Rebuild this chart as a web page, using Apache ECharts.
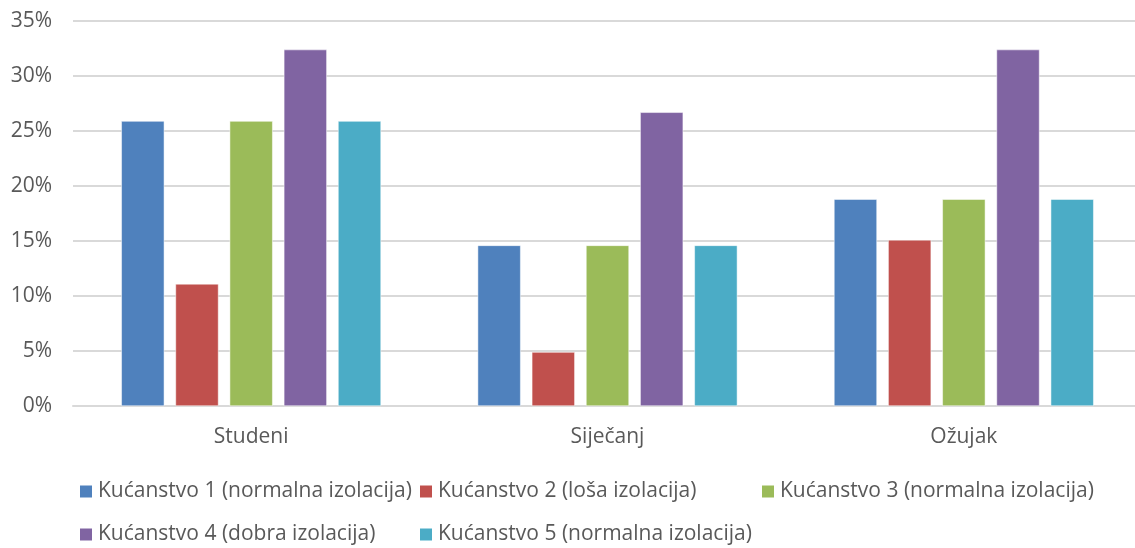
<!DOCTYPE html>
<html>
<head>
<meta charset="utf-8">
<script src="https://cdn.jsdelivr.net/npm/echarts@6/dist/echarts.min.js"></script>
<style>
  html, body { margin: 0; padding: 0; background: #fff; }
  #chart { width: 1135px; height: 548px; }
</style>
</head>
<body>
<div id="chart"></div>
<script>
const categories = ["Studeni", "Siječanj", "Ožujak"];
const seriesNames = [
    "Kućanstvo 1 (normalna izolacija)",
    "Kućanstvo 2 (loša izolacija)",
    "Kućanstvo 3 (normalna izolacija)",
    "Kućanstvo 4 (dobra izolacija)",
    "Kućanstvo 5 (normalna izolacija)",
];
const kucanstvo1 = [25.9, 14.6, 18.8];
const kucanstvo2 = [11.1, 4.9, 15.1];
const kucanstvo3 = [25.9, 14.6, 18.8];
const kucanstvo4 = [32.4, 26.7, 32.4];
const kucanstvo5 = [25.9, 14.6, 18.8];
const colors = ["#4f81bd", "#c0504d", "#9bbb59", "#8064a2", "#4bacc6"];

const allValues = [kucanstvo1, kucanstvo2, kucanstvo3, kucanstvo4, kucanstvo5];
const font = "Open Sans";

// legend in a two-row grid, one legend per item
const legendPos = [
    { left: 78, top: 481 },
    { left: 418, top: 481 },
    { left: 760, top: 481 },
    { left: 78, top: 524 },
    { left: 418, top: 524 },
];

const chart = echarts.init(document.getElementById("chart"));
chart.setOption({
    animation: false,
    color: colors,
    textStyle: { fontFamily: font },
    // plot runs slightly past the right edge, as in the original crop
    grid: {
        left: 73,
        top: 21,
        width: 1069,
        height: 385,
        outerBoundsMode: "none",
    },
    legend: seriesNames.map((name, i) => ({
        data: [name],
        left: legendPos[i].left,
        top: legendPos[i].top,
        padding: 0,
        icon: "rect",
        itemWidth: 14,
        itemHeight: 14,
        itemGap: 0,
        textStyle: { fontSize: 21, color: "#595959", fontFamily: font },
    })),
    xAxis: {
        type: "category",
        data: categories,
        axisLine: { lineStyle: { color: "#d9d9d9", width: 2 } },
        axisTick: { show: false },
        axisLabel: { fontSize: 21, color: "#595959", margin: 21 },
    },
    yAxis: {
        type: "value",
        min: 0,
        max: 35,
        interval: 5,
        axisLine: { show: false },
        axisTick: { show: false },
        axisLabel: {
            fontSize: 21,
            color: "#595959",
            margin: 21,
            formatter: "{value}%",
        },
        splitLine: { lineStyle: { color: "#d9d9d9", width: 2 } },
    },
    series: seriesNames.map((name, i) => ({
        name: name,
        type: "bar",
        data: allValues[i],
        barWidth: 43,
        barGap: "26%",
        itemStyle: { color: colors[i], borderColor: "#ffffff", borderWidth: 0.5 },
    })),
});
</script>
</body>
</html>
